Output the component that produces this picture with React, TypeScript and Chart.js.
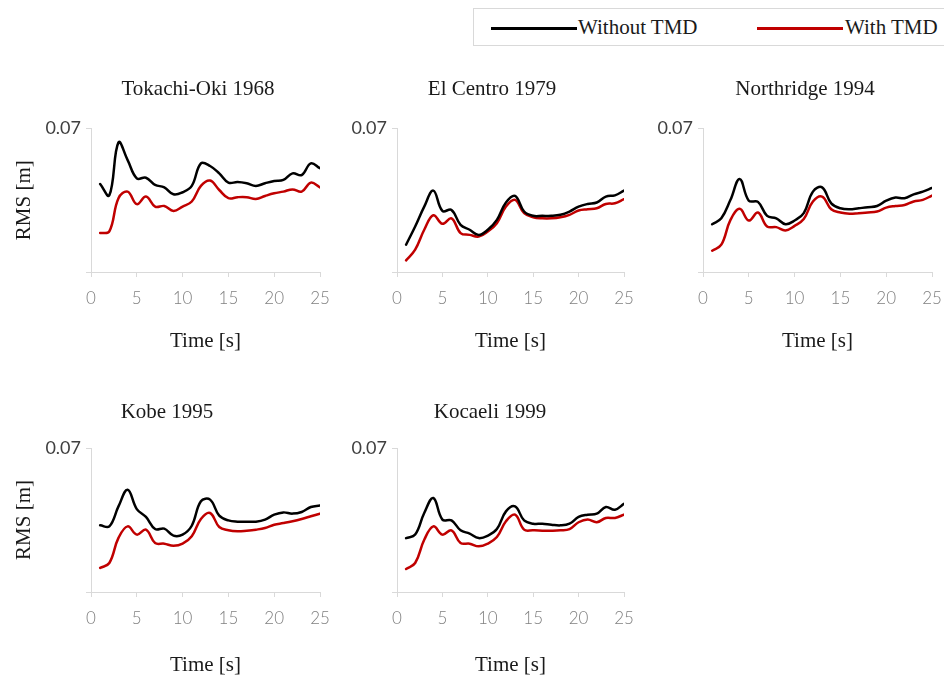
import { useEffect, useRef } from "react";
import { Chart, registerables } from "chart.js";

Chart.register(...registerables);

// Sampling instants (s)
const TIME = [1, 2, 3, 4, 5, 6, 7, 8, 9, 10, 11, 12, 13, 14, 15, 16, 17, 18, 19, 20, 21, 22, 23, 24, 25];

// RMS displacement (m) per record
const TOKACHI_WITHOUT = [0.0429, 0.0374, 0.0632, 0.0546, 0.0457, 0.046, 0.0425, 0.0413, 0.0379, 0.0389, 0.042, 0.053, 0.0517, 0.0481, 0.0436, 0.0439, 0.0433, 0.042, 0.0433, 0.0444, 0.0449, 0.0481, 0.0473, 0.053, 0.0506];
const TOKACHI_WITH = [0.019, 0.0198, 0.036, 0.0392, 0.0331, 0.0368, 0.0319, 0.0322, 0.0298, 0.0319, 0.0344, 0.042, 0.0446, 0.04, 0.036, 0.0365, 0.0365, 0.0356, 0.0371, 0.0384, 0.0392, 0.0403, 0.0392, 0.0436, 0.0413];

const ELCENTRO_WITHOUT = [0.0133, 0.0222, 0.0319, 0.0397, 0.0298, 0.0303, 0.023, 0.0206, 0.0181, 0.0206, 0.0254, 0.0339, 0.0371, 0.0295, 0.0274, 0.0274, 0.0274, 0.0279, 0.0295, 0.0319, 0.0332, 0.0339, 0.0368, 0.0374, 0.0397];
const ELCENTRO_WITH = [0.0057, 0.0109, 0.0206, 0.0277, 0.0235, 0.0262, 0.019, 0.0181, 0.0173, 0.0198, 0.0238, 0.0319, 0.0352, 0.0287, 0.0267, 0.0262, 0.0262, 0.0267, 0.0279, 0.03, 0.0306, 0.0311, 0.0332, 0.0335, 0.0355];

const NORTHRIDGE_WITHOUT = [0.0233, 0.0262, 0.0352, 0.0454, 0.0348, 0.0342, 0.0274, 0.0262, 0.0233, 0.0251, 0.0287, 0.0392, 0.0413, 0.0335, 0.0311, 0.0306, 0.0311, 0.0316, 0.0322, 0.0348, 0.0363, 0.036, 0.0379, 0.0392, 0.041];
const NORTHRIDGE_WITH = [0.0104, 0.0133, 0.0254, 0.0308, 0.0251, 0.029, 0.0222, 0.0219, 0.0203, 0.0225, 0.0258, 0.0344, 0.0368, 0.0306, 0.029, 0.0284, 0.0287, 0.029, 0.0295, 0.0314, 0.0322, 0.0327, 0.0344, 0.0352, 0.0373];

const KOBE_WITHOUT = [0.0324, 0.0319, 0.0416, 0.0497, 0.0403, 0.0365, 0.0306, 0.0308, 0.0274, 0.0279, 0.0322, 0.0441, 0.0449, 0.0371, 0.0348, 0.0342, 0.0342, 0.0342, 0.0352, 0.0376, 0.0387, 0.0381, 0.0389, 0.0413, 0.042];
const KOBE_WITH = [0.0117, 0.0141, 0.0263, 0.0319, 0.0279, 0.0303, 0.0238, 0.0235, 0.0225, 0.0235, 0.0271, 0.0355, 0.0384, 0.0316, 0.03, 0.0295, 0.0298, 0.0303, 0.0311, 0.0327, 0.0335, 0.0344, 0.0355, 0.0368, 0.0381];

const KOCAELI_WITHOUT = [0.0262, 0.0279, 0.0384, 0.0457, 0.0352, 0.0348, 0.03, 0.0284, 0.0262, 0.0274, 0.0306, 0.0392, 0.0416, 0.0348, 0.0332, 0.0332, 0.0327, 0.0324, 0.0332, 0.0365, 0.0376, 0.0381, 0.0413, 0.04, 0.0429];
const KOCAELI_WITH = [0.0112, 0.0141, 0.0254, 0.0319, 0.0279, 0.03, 0.0238, 0.0235, 0.0222, 0.0235, 0.0267, 0.0344, 0.0376, 0.0303, 0.03, 0.0298, 0.0298, 0.03, 0.0306, 0.0339, 0.0352, 0.0339, 0.036, 0.036, 0.0376];

const SERIES_LABELS = ["Without TMD", "With TMD"];
const Y_MIN = 0;
const Y_MAX = 0.07;
const X_MIN = 0;
const X_MAX = 25;
const X_STEP = 5;

const BLACK = "#000000";
const RED = "#c00000";
const AXIS = "#d9d9d9";
const TEXT = "#1a1a1a";
const SERIF = "'Liberation Serif', 'Times New Roman', serif";
const SANS = "Lato, 'Open Sans', sans-serif";

type Row = { top: number; height: number; padTop: number; titleY: number; xAxisHeight: number; xTitlePad: number };
type Col = { left: number; width: number };

const PAD_RIGHT = 22;

const ROWS: Row[] = [
  { top: 60, height: 294, padTop: 68.5, titleY: 29, xAxisHeight: 82, xTitlePad: 0.4 },
  { top: 380, height: 298, padTop: 68, titleY: 32, xAxisHeight: 86, xTitlePad: 0.4 },
];
const COLS: Col[] = [
  { left: 0, width: 342 },
  { left: 306, width: 340 },
  { left: 612, width: 342 },
];

type PanelDef = { title: string; without: number[]; withTmd: number[]; row: number; col: number; yTitle: boolean; titleX: number };

const PANELS: PanelDef[] = [
  { title: "Tokachi-Oki 1968", without: TOKACHI_WITHOUT, withTmd: TOKACHI_WITH, row: 0, col: 0, yTitle: true, titleX: 198 },
  { title: "El Centro 1979", without: ELCENTRO_WITHOUT, withTmd: ELCENTRO_WITH, row: 0, col: 1, yTitle: false, titleX: 492 },
  { title: "Northridge 1994", without: NORTHRIDGE_WITHOUT, withTmd: NORTHRIDGE_WITH, row: 0, col: 2, yTitle: false, titleX: 805 },
  { title: "Kobe 1995", without: KOBE_WITHOUT, withTmd: KOBE_WITH, row: 1, col: 0, yTitle: true, titleX: 167 },
  { title: "Kocaeli 1999", without: KOCAELI_WITHOUT, withTmd: KOCAELI_WITH, row: 1, col: 1, yTitle: false, titleX: 490 },
];

// Draws the panel heading at a fixed spot above the plot area
const panelTitle = {
  id: "panelTitle",
  afterDraw(chart: any, _args: any, opts: any) {
    const ctx = chart.ctx;
    ctx.save();
    ctx.font = `21px ${SERIF}`;
    ctx.fillStyle = TEXT;
    ctx.textAlign = "center";
    ctx.textBaseline = "middle";
    ctx.fillText(opts.text, opts.x, opts.y);
    ctx.restore();
  },
};

function Panel({ def }: { def: PanelDef }) {
  const ref = useRef<HTMLCanvasElement>(null);
  const row = ROWS[def.row];
  const col = COLS[def.col];

  useEffect(() => {
    const canvas = ref.current;
    if (!canvas) return;
    const line = (label: string, values: number[], color: string) => ({
      label,
      data: TIME.map((t, i) => ({ x: t, y: values[i] })),
      borderColor: color,
      backgroundColor: color,
      borderWidth: 2.5,
      borderCapStyle: "round" as const,
      borderJoinStyle: "round" as const,
      pointRadius: 0,
      tension: 0.4,
      fill: false,
    });
    const chart = new Chart(canvas, {
      type: "line",
      data: {
        datasets: [
          line(SERIES_LABELS[0], def.without, BLACK),
          line(SERIES_LABELS[1], def.withTmd, RED),
        ],
      },
      plugins: [panelTitle],
      options: {
        responsive: false,
        animation: false,
        devicePixelRatio: 1,
        layout: { padding: { left: 0, right: PAD_RIGHT, top: row.padTop, bottom: 0 } },
        plugins: {
          legend: { display: false },
          tooltip: { enabled: false },
          title: { display: false },
          panelTitle: { text: def.title, x: def.titleX - col.left, y: row.titleY },
        },
        scales: {
          x: {
            type: "linear",
            min: X_MIN,
            max: X_MAX,
            ticks: {
              stepSize: X_STEP,
              color: "#808080",
              font: { family: SANS, size: 17, weight: 300 },
              padding: 11,
              maxRotation: 0,
            },
            grid: { drawOnChartArea: false, drawTicks: true, tickLength: 5, color: AXIS },
            border: { color: AXIS, width: 1 },
            title: {
              display: true,
              text: "Time [s]",
              color: TEXT,
              font: { family: SERIF, size: 21 },
              padding: { top: 0, bottom: row.xTitlePad },
            },
            afterFit: (s: any) => {
              s.height = row.xAxisHeight;
            },
          },
          y: {
            min: Y_MIN,
            max: Y_MAX,
            afterBuildTicks: (s: any) => {
              s.ticks = [{ value: Y_MIN }, { value: Y_MAX }];
            },
            ticks: {
              callback: (v: any) => (v === Y_MAX ? String(Y_MAX) : ""),
              color: "#404040",
              font: { family: SANS, size: 18 },
              padding: 5,
            },
            grid: { drawOnChartArea: false, drawTicks: true, tickLength: 5, color: AXIS },
            border: { color: AXIS, width: 1 },
            title: {
              display: def.yTitle,
              text: "RMS [m]",
              color: TEXT,
              font: { family: SERIF, size: 21 },
              padding: { top: 11.4, bottom: 0 },
            },
            afterFit: (s: any) => {
              s.width = 91;
            },
          },
        },
      },
    } as any);
    return () => chart.destroy();
  }, [def, row, col]);

  return (
    <canvas
      ref={ref}
      width={col.width}
      height={row.height}
      style={{ position: "absolute", left: col.left, top: row.top, width: col.width, height: row.height }}
    />
  );
}

function Legend() {
  const text: React.CSSProperties = {
    position: "absolute",
    top: 0,
    height: 37,
    lineHeight: "37px",
    fontFamily: SERIF,
    fontSize: 21,
    color: TEXT,
    whiteSpace: "nowrap",
  };
  const stroke = (left: number, width: number, color: string): React.CSSProperties => ({
    position: "absolute",
    left,
    width,
    top: 18,
    height: 2.5,
    background: color,
  });
  return (
    <div
      style={{
        position: "absolute",
        left: 473,
        top: 8,
        width: 490,
        height: 38,
        border: `1px solid ${AXIS}`,
        boxSizing: "border-box",
        background: "#fff",
      }}
    >
      <div style={stroke(17, 86, BLACK)} />
      <div style={{ ...text, left: 104 }}>{SERIES_LABELS[0]}</div>
      <div style={stroke(283, 86, RED)} />
      <div style={{ ...text, left: 371 }}>{SERIES_LABELS[1]}</div>
    </div>
  );
}

export default function App() {
  return (
    <div
      style={{
        position: "absolute",
        left: 0,
        top: 0,
        width: 944,
        height: 680,
        overflow: "hidden",
        background: "#ffffff",
      }}
    >
      <Legend />
      {PANELS.map((p) => (
        <Panel key={p.title} def={p} />
      ))}
    </div>
  );
}
